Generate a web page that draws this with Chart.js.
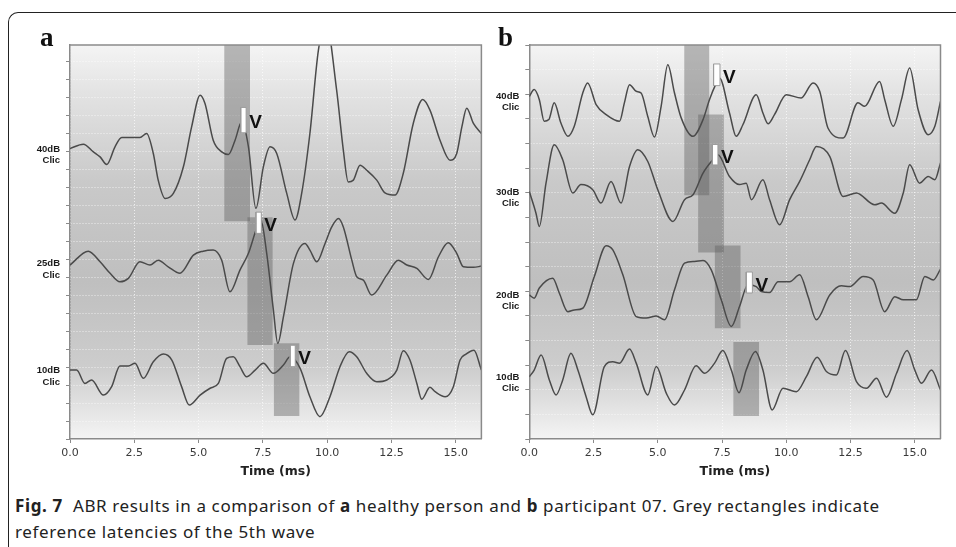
<!DOCTYPE html>
<html>
<head>
<meta charset="utf-8">
<script src="https://cdn.jsdelivr.net/npm/chart.js@4.4.0/dist/chart.umd.min.js"></script>
<style>
html, body { margin: 0; padding: 0; background: #fff; }
body { width: 956px; height: 547px; position: relative; overflow: hidden; font-family: 'Noto Sans', sans-serif; }
.frame { position: absolute; left: 8px; top: 12px; width: 1000px; height: 600px;
         border-top: 1.5px solid #222; border-left: 1.5px solid #222; border-top-left-radius: 10px; }
canvas { position: absolute; top: 0; }
#chartA { left: 0; }
#chartB { left: 476px; }
.tag { position: absolute; top: 24px; font: bold 27px/27px 'Liberation Serif', serif; color: #111; }
.caption { position: absolute; left: 15px; top: 493px; font-size: 17px; line-height: 26px; letter-spacing: 0.62px; color: #222; white-space: nowrap; }
.caption b { font-weight: bold; }
</style>
</head>
<body>
<div class="frame"></div>
<canvas id="chartA" width="490" height="482"></canvas>
<canvas id="chartB" width="480" height="482"></canvas>
<div class="tag" style="left:40px">a</div>
<div class="tag" style="left:498px">b</div>
<div class="caption"><b>Fig. 7</b>&nbsp; ABR results in a comparison of <b>a</b> healthy person and <b>b</b> participant 07. Grey rectangles indicate<br>reference latencies of the 5th wave</div>

<script>
// time axis (ms)
const X_TICKS = [0, 2.5, 5, 7.5, 10, 12.5, 15];

// panel a traces: [time ms, amplitude]
const a40 = [[0,16.15],[0.52,16.39],[0.91,15.96],[1.17,15.68],[1.43,15.26],[1.75,16.24],[2.01,16.76],[2.72,16.76],[2.98,16.98],[3.24,15.87],[3.43,14.39],[3.70,13.37],[4.02,13.65],[4.41,15.13],[4.73,17.35],[5.06,19.11],[5.25,18.65],[5.57,16.61],[5.90,15.96],[6.16,15.82],[6.42,16.61],[6.68,17.63],[6.94,16.24],[7.23,12.82],[7.52,15.13],[7.78,16.24],[8.04,15.87],[8.43,13.65],[8.75,12.17],[9.01,13.65],[9.33,16.98],[9.66,21.6],[9.95,23.2],[10.37,19.39],[10.63,16.06],[10.82,14.29],[11.02,14.39],[11.28,15.22],[11.54,14.94],[11.93,14.39],[12.25,13.68],[12.64,13.56],[12.96,14.76],[13.35,17.54],[13.72,18.87],[14.0,18.28],[14.39,16.61],[14.78,15.5],[15.04,15.87],[15.24,17.35],[15.43,18.39],[15.69,17.54],[16.0,16.98]];
const a25 = [[0,9.67],[0.71,10.44],[1.17,9.85],[1.56,9.21],[1.94,8.74],[2.27,8.93],[2.72,9.85],[3.11,9.67],[3.43,9.94],[3.82,9.57],[4.28,9.21],[4.80,10.22],[5.18,10.44],[5.57,10.5],[5.90,9.94],[6.22,8.18],[6.61,9.39],[6.94,10.32],[7.26,11.71],[7.42,12.17],[7.65,10.32],[7.91,7.17],[8.08,5.32],[8.30,6.79],[8.69,9.76],[9.14,10.87],[9.33,10.5],[9.60,9.85],[9.92,10.87],[10.18,11.79],[10.44,12.26],[10.63,11.79],[10.96,9.94],[11.15,9.02],[11.41,8.83],[11.73,8.0],[12.32,9.11],[12.77,9.94],[13.10,9.67],[13.49,9.48],[13.94,8.87],[14.33,10.13],[14.71,10.91],[15.04,10.32],[15.30,9.57],[15.69,9.54],[16.0,9.61]];
const a10 = [[0,3.83],[0.26,3.83],[0.58,3.09],[0.84,3.28],[1.30,2.44],[1.62,2.91],[1.94,4.06],[2.27,4.06],[2.53,4.21],[2.85,3.37],[3.24,4.29],[3.63,4.72],[3.96,4.39],[4.34,2.91],[4.64,1.89],[5.06,2.44],[5.45,2.82],[5.77,3.09],[6.09,4.48],[6.35,4.57],[6.61,4.02],[6.87,3.46],[7.20,3.83],[7.52,4.21],[7.91,3.65],[8.30,4.11],[8.56,4.57],[8.95,3.93],[9.33,2.35],[9.72,1.24],[10.11,2.35],[10.50,4.02],[10.86,4.85],[11.15,4.57],[11.54,3.65],[11.93,3.18],[12.32,3.28],[12.71,3.83],[12.96,4.91],[13.22,4.39],[13.49,3.09],[13.68,2.21],[14.0,2.87],[14.20,2.63],[14.59,2.35],[14.91,2.91],[15.17,4.39],[15.40,4.72],[15.71,4.94],[16.0,3.83]];

// panel b traces
const b40 = [[0,13.91],[0.19,14.19],[0.39,13.78],[0.58,12.90],[0.76,12.97],[0.97,13.65],[1.23,12.83],[1.50,12.29],[1.75,12.70],[2.08,14.05],[2.27,14.46],[2.60,13.58],[2.99,13.17],[3.51,12.90],[3.70,13.65],[3.90,14.39],[4.16,14.12],[4.35,14.05],[4.61,13.10],[4.87,12.26],[5.13,13.51],[5.39,15.20],[5.65,14.05],[5.91,13.04],[6.37,12.29],[6.76,12.97],[7.01,13.78],[7.25,14.39],[7.40,14.66],[7.79,13.24],[8.05,12.29],[8.31,12.76],[8.83,13.98],[9.09,13.24],[9.29,12.80],[9.54,13.17],[10.0,13.98],[10.58,13.85],[11.04,14.46],[11.30,14.12],[11.62,12.63],[12.21,12.22],[12.79,13.65],[13.05,13.51],[13.63,14.52],[13.83,13.78],[14.16,12.70],[14.48,13.78],[14.80,15.07],[15.13,13.37],[15.52,12.36],[15.78,12.70],[16.0,13.71]];
const b30 = [[0,10.05],[0.26,9.17],[0.39,8.63],[0.65,10.39],[0.97,11.95],[1.30,11.34],[1.69,9.99],[2.01,10.33],[2.47,10.12],[2.79,9.58],[3.18,10.46],[3.57,9.58],[3.90,11.07],[4.22,11.75],[4.61,11.27],[5.0,10.12],[5.59,8.83],[6.04,9.72],[6.37,9.92],[6.76,10.80],[7.14,11.34],[7.34,11.54],[7.79,10.66],[8.18,10.33],[8.44,10.39],[8.64,9.72],[9.09,10.53],[9.35,9.72],[9.74,8.70],[10.13,9.72],[10.52,10.46],[10.91,11.34],[11.17,11.88],[11.69,11.48],[12.21,9.85],[12.73,9.99],[13.44,9.51],[13.70,9.58],[14.22,9.17],[14.55,9.99],[14.80,11.14],[15.19,10.39],[15.52,10.66],[15.78,10.53],[16.0,11.21]];
const b20 = [[0,5.85],[0.19,5.72],[0.39,6.13],[0.91,6.53],[1.17,5.92],[1.50,5.17],[1.75,5.24],[2.08,5.31],[2.53,6.60],[2.99,7.85],[3.25,7.68],[3.64,6.67],[4.16,4.97],[4.55,4.91],[4.94,5.0],[5.26,4.84],[5.65,6.06],[6.04,7.14],[6.43,7.21],[6.76,7.25],[7.08,6.87],[7.47,5.65],[7.86,4.57],[8.18,5.38],[8.51,6.26],[8.83,6.19],[9.03,5.99],[9.35,5.95],[9.68,6.39],[10.13,6.39],[10.52,6.67],[10.85,5.78],[11.17,4.84],[11.69,5.85],[12.14,6.22],[12.47,6.19],[12.99,6.60],[13.38,6.46],[13.83,5.17],[14.22,5.78],[14.55,5.65],[15.06,5.65],[15.39,6.60],[15.72,6.46],[16.0,6.90]];
const b10 = [[0,2.53],[0.19,2.80],[0.46,3.41],[0.78,2.40],[1.04,1.79],[1.30,2.40],[1.62,3.48],[1.89,2.80],[2.21,1.72],[2.47,0.98],[2.92,2.94],[3.25,3.14],[3.51,3.08],[3.90,3.65],[4.16,3.08],[4.61,1.79],[4.94,2.94],[5.33,1.86],[5.65,1.38],[6.04,1.99],[6.49,2.97],[6.82,2.67],[7.21,3.08],[7.53,3.59],[7.86,2.80],[8.16,1.88],[8.44,2.80],[8.80,3.55],[9.09,2.80],[9.45,1.18],[9.87,2.06],[10.39,1.92],[10.78,2.53],[11.20,3.32],[11.56,2.74],[11.95,2.60],[12.30,3.59],[12.73,2.33],[13.12,2.06],[13.51,2.47],[13.90,1.70],[14.29,2.67],[14.70,3.59],[15.0,2.80],[15.26,2.26],[15.65,2.80],[16.0,1.99]];

// reference latency windows and wave V markers: [t0, t1, y0, y1]
const A_RECTS = [[6.0,7.0,12.11,21.9],[6.9,7.88,5.22,12.33],[7.93,8.92,1.28,5.32]];
const A_MARKS = [[6.64,6.85,17.02,18.43],[7.23,7.44,11.43,12.61],[8.56,8.76,4.02,5.21]];
const B_RECTS = [[6.03,7.0,9.9,16],[6.57,7.57,7.57,13.18],[7.22,8.22,4.5,7.86],[7.94,8.94,0.93,3.94]];
const B_MARKS = [[7.17,7.42,14.35,15.23],[7.12,7.34,11.13,11.96],[8.44,8.68,5.93,6.78]];

// channel labels and where they sit on the y axis
const A_LABELS = [['40dB', 15.78], ['25dB', 9.42], ['10dB', 3.47]];
const B_LABELS = [['40dB', 13.7], ['30dB', 9.8], ['20dB', 5.61], ['10dB', 2.29]];
const A_YTICKS = [0,1,2,3,4,5,6,7,8,9,10,11,12,13,14,15,16,17,18,19,20,21];
const B_YTICKS = [0,1,2,3,4,5,6,7,8,9,10,11,12,13,14,15,16];

const BG_STOPS = [[0,'#f4f4f4'],[0.12,'#e3e3e3'],[0.35,'#c9c9c9'],[0.6,'#bfbfbf'],[0.82,'#cdcdcd'],[1,'#f4f4f4']];
const GRID_COLOR = 'rgba(255,255,255,0.7)';

function box([x0, x1, y0, y1]) {
    return [{x:x0,y:y0},{x:x1,y:y0},{x:x1,y:y1},{x:x0,y:y1},{x:x0,y:y0}];
}

function traceSet(pts) {
    return {
        data: pts.map(([x, y]) => ({x, y})),
        borderColor: '#4a4a4a', borderWidth: 1.5, pointRadius: 0,
        cubicInterpolationMode: 'monotone', fill: false, order: 1,
    };
}

const panelPlugin = {
    id: 'panel',
    beforeDraw(chart) {
        const { ctx, chartArea: a } = chart;
        const g = ctx.createLinearGradient(0, a.top, 0, a.bottom);
        BG_STOPS.forEach(([p, c]) => g.addColorStop(p, c));
        ctx.save();
        ctx.fillStyle = g;
        ctx.fillRect(a.left, a.top, a.width, a.height);
        ctx.restore();
    },
    afterDatasetsDraw(chart, args, opts) {
        const { ctx, scales: { x, y } } = chart;
        ctx.save();
        ctx.fillStyle = '#111';
        ctx.font = "bold 19px 'Liberation Sans', sans-serif";
        ctx.textAlign = 'left';
        ctx.textBaseline = 'middle';
        for (const m of opts.marks || []) {
            ctx.fillText('V', x.getPixelForValue(m[1]) + 3, y.getPixelForValue((m[2] + m[3]) / 2) + 3);
        }
        ctx.restore();
    },
    afterDraw(chart) {
        // top and right edges of the plot frame
        const { ctx, chartArea: a } = chart;
        ctx.save();
        ctx.strokeStyle = '#8a8a8a';
        ctx.lineWidth = 1.5;
        ctx.beginPath();
        ctx.moveTo(a.left, a.top);
        ctx.lineTo(a.right, a.top);
        ctx.lineTo(a.right, a.bottom);
        ctx.stroke();
        ctx.restore();
    },
};

function makePanel(id, cfg) {
    const labelAt = v => cfg.labels.find(l => Math.abs(l[1] - v) < 1e-6);
    const datasets = [
        ...cfg.marks.map(m => ({ data: box(m), borderColor: '#9c9c9c', borderWidth: 1, backgroundColor: '#ffffff',
                                  fill: 'shape', pointRadius: 0, tension: 0, order: 0 })),
        ...cfg.traces.map(traceSet),
        ...cfg.rects.map(r => ({ data: box(r), borderColor: 'transparent', borderWidth: 0,
                                  backgroundColor: 'rgba(95,95,95,0.42)', fill: 'shape', pointRadius: 0, tension: 0, order: 2 })),
    ];
    return new Chart(document.getElementById(id), {
        type: 'line',
        data: { datasets },
        options: {
            responsive: false, animation: false, events: [],
            layout: { padding: cfg.padding },
            plugins: { legend: { display: false }, tooltip: { enabled: false }, panel: { marks: cfg.marks } },
            scales: {
                x: {
                    type: 'linear', min: 0, max: 16,
                    afterBuildTicks: s => { s.ticks = X_TICKS.map(v => ({ value: v })); },
                    afterFit: s => { s.height = 40; },
                    ticks: { autoSkip: false, maxRotation: 0, padding: 4, color: '#3a3a3a',
                             font: { family: "'DejaVu Sans', sans-serif", size: 11 },
                             callback: v => Number(v).toFixed(1) },
                    grid: { color: GRID_COLOR, tickColor: '#8a8a8a', tickLength: 4 },
                    border: { color: '#8a8a8a', width: 1.5, dash: [1, 2] },
                    title: { display: true, text: 'Time (ms)', color: '#222', padding: { top: 0, bottom: 0 },
                             font: { family: "'DejaVu Sans', sans-serif", size: 12.5, weight: 'bold' } },
                },
                y: {
                    type: 'linear', min: 0, max: cfg.ymax,
                    afterBuildTicks: s => {
                        s.ticks = cfg.yticks.concat(cfg.labels.map(l => l[1])).sort((p, q) => p - q).map(v => ({ value: v }));
                    },
                    afterFit: s => { s.width = 40; },
                    ticks: { autoSkip: false, padding: 6, color: '#1a1a1a',
                             font: { family: "'Liberation Sans', sans-serif", size: 9.5, weight: 'bold' },
                             callback: v => { const l = labelAt(v); return l ? [l[0], 'Clic'] : ''; } },
                    grid: {
                        color: c => labelAt(c.tick.value) ? 'transparent' : GRID_COLOR,
                        tickColor: c => labelAt(c.tick.value) ? 'transparent' : '#8a8a8a',
                        tickLength: 4,
                    },
                    border: { color: '#8a8a8a', width: 1.5, dash: [1, 2] },
                },
            },
        },
        plugins: [panelPlugin],
    });
}

makePanel('chartA', {
    traces: [a40, a25, a10], rects: A_RECTS, marks: A_MARKS, labels: A_LABELS,
    yticks: A_YTICKS, ymax: 21.9,
    padding: { left: 30, top: 45, right: 8.6, bottom: 3 },
});

makePanel('chartB', {
    traces: [b40, b30, b20, b10], rects: B_RECTS, marks: B_MARKS, labels: B_LABELS,
    yticks: B_YTICKS, ymax: 16,
    padding: { left: 13.3, top: 45, right: 15.5, bottom: 3 },
});
</script>
</body>
</html>
